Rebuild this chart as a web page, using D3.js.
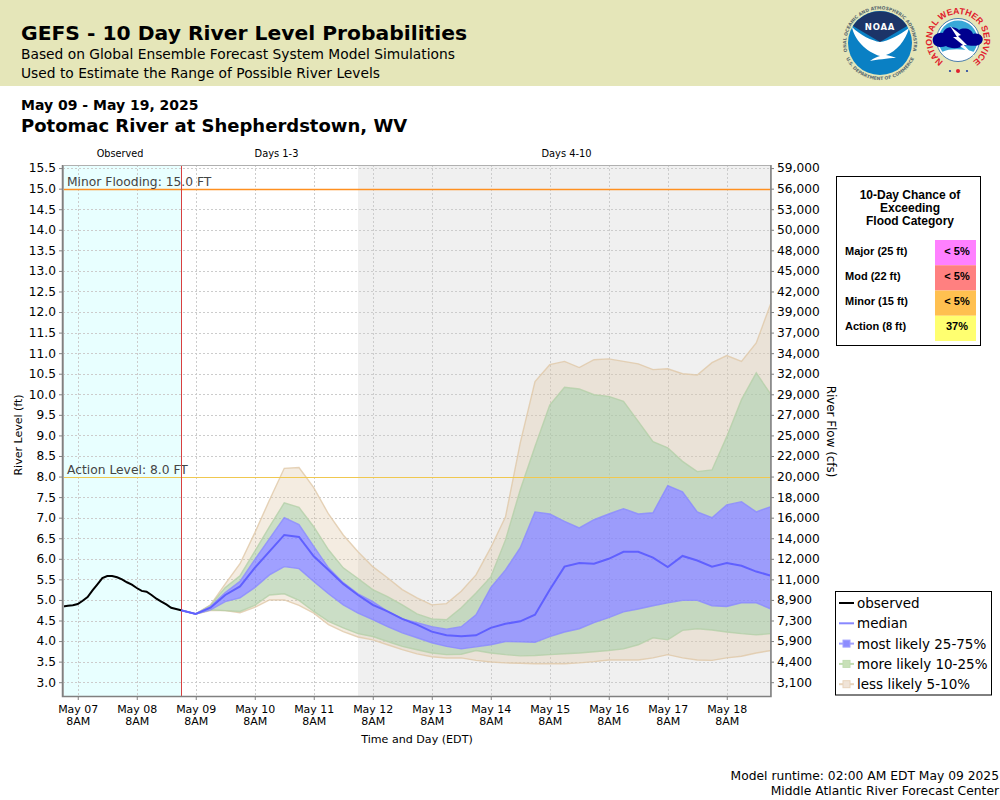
<!DOCTYPE html>
<html>
<head>
<meta charset="utf-8">
<script src="https://cdnjs.cloudflare.com/ajax/libs/d3/7.8.5/d3.min.js"></script>
<style>
  html, body { margin: 0; padding: 0; background: #fff; }
  svg { display: block; font-family: "DejaVu Sans", sans-serif; }
</style>
</head>
<body>
<div id="chart"></div>
<script>
// river level, ft. observed is every 2 hours from May 07 02:00
const observed = [4.84, 4.86, 4.87, 4.9, 4.98, 5.07, 5.23, 5.38, 5.53, 5.58, 5.58, 5.55, 5.5, 5.43, 5.37, 5.29, 5.22, 5.2, 5.12, 5.03, 4.96, 4.89, 4.81, 4.78, 4.75];

// forecast percentiles, every 6 hours from May 09 02:00
const p95 = [4.75, 4.66, 4.88, 5.39, 5.88, 6.63, 7.43, 8.2, 8.22, 7.73, 7.09, 6.58, 6.17, 5.81, 5.54, 5.25, 5.05, 4.88, 4.91, 5.21, 5.61, 6.27, 7.02, 8.82, 10.31, 10.72, 10.8, 10.65, 10.84, 10.86, 10.8, 10.74, 10.6, 10.62, 10.5, 10.47, 10.77, 10.94, 10.8, 11.25, 12.22];
const p90 = [4.75, 4.66, 4.87, 5.3, 5.59, 6.18, 6.78, 7.36, 7.25, 6.78, 6.22, 5.78, 5.52, 5.25, 5.08, 4.88, 4.66, 4.54, 4.52, 4.81, 5.17, 5.56, 6.46, 7.68, 8.73, 9.74, 10.17, 10.13, 9.99, 9.95, 9.83, 9.34, 8.85, 8.7, 8.37, 8.12, 8.16, 8.97, 9.87, 10.52, 9.99];
const p75 = [4.75, 4.66, 4.84, 5.18, 5.45, 5.98, 6.49, 7.0, 6.83, 6.3, 5.78, 5.42, 5.15, 4.96, 4.72, 4.54, 4.45, 4.35, 4.29, 4.35, 4.64, 5.3, 5.73, 6.27, 7.14, 7.09, 6.91, 6.75, 6.95, 7.09, 7.22, 7.09, 7.12, 7.78, 7.63, 7.14, 7.0, 7.31, 7.39, 7.14, 7.27];
const p50 = [4.75, 4.66, 4.81, 5.12, 5.33, 5.78, 6.18, 6.58, 6.53, 6.06, 5.73, 5.39, 5.12, 4.88, 4.72, 4.54, 4.4, 4.23, 4.14, 4.12, 4.14, 4.32, 4.42, 4.48, 4.64, 5.25, 5.81, 5.9, 5.88, 6.0, 6.17, 6.17, 6.03, 5.8, 6.07, 5.96, 5.81, 5.9, 5.83, 5.69, 5.59];
const p25 = [4.75, 4.66, 4.76, 4.96, 5.05, 5.3, 5.61, 5.81, 5.76, 5.45, 5.15, 4.88, 4.68, 4.52, 4.35, 4.2, 4.08, 3.96, 3.87, 3.81, 3.86, 3.91, 3.99, 3.98, 3.97, 4.11, 4.22, 4.3, 4.45, 4.57, 4.71, 4.78, 4.86, 4.93, 4.99, 4.99, 4.86, 4.84, 4.93, 4.93, 4.78];
const p10 = [4.75, 4.66, 4.76, 4.74, 4.72, 4.87, 5.12, 5.15, 4.99, 4.72, 4.48, 4.32, 4.18, 4.11, 3.99, 3.87, 3.79, 3.71, 3.67, 3.68, 3.77, 3.71, 3.67, 3.64, 3.65, 3.67, 3.69, 3.71, 3.74, 3.77, 3.81, 3.91, 4.08, 4.03, 4.26, 4.3, 4.27, 4.22, 4.18, 4.15, 4.18];
const p5 = [4.75, 4.66, 4.74, 4.74, 4.69, 4.82, 5.0, 5.0, 4.87, 4.68, 4.4, 4.23, 4.1, 4.03, 3.91, 3.79, 3.69, 3.62, 3.59, 3.59, 3.53, 3.49, 3.47, 3.46, 3.45, 3.45, 3.45, 3.47, 3.5, 3.54, 3.54, 3.54, 3.59, 3.67, 3.59, 3.54, 3.53, 3.59, 3.63, 3.71, 3.77];

// left axis ticks and the matching flow label on the right
const levelTicks = [15.5, 15, 14.5, 14, 13.5, 13, 12.5, 12, 11.5, 11, 10.5, 10, 9.5, 9, 8.5, 8, 7.5, 7, 6.5, 6, 5.5, 5, 4.5, 4, 3.5, 3];
const flowLabels = ["59,000", "56,000", "53,000", "50,000", "48,000", "45,000", "42,000", "39,000", "37,000", "34,000", "32,000", "29,000", "27,000", "25,000", "22,000", "20,000", "18,000", "16,000", "14,000", "12,000", "11,000", "8,900", "7,300", "5,900", "4,400", "3,100"];
const dayTicks = ["2025-05-07", "2025-05-08", "2025-05-09", "2025-05-10", "2025-05-11", "2025-05-12", "2025-05-13", "2025-05-14", "2025-05-15", "2025-05-16", "2025-05-17", "2025-05-18"];

const floodNames = ["Major (25 ft)", "Mod (22 ft)", "Minor (15 ft)", "Action (8 ft)"];
const floodChances = ["< 5%", "< 5%", "< 5%", "37%"];
const floodColors = ["#ff80ff", "#ff8080", "#ffc050", "#ffff70"];

const width = 1000;
const height = 800;
const plot = { left: 63, right: 771, top: 165, bottom: 697 };
const hour = 3600 * 1000;
const start = new Date(2025, 4, 7, 2);
const end = new Date(2025, 4, 19, 2);
const fcstStart = new Date(2025, 4, 9, 2);
const longStart = new Date(2025, 4, 12, 2);

const x = d3.scaleTime().domain([start, end]).range([plot.left, plot.right]);
const y = d3.scaleLinear().domain([2.64, 15.575]).range([plot.bottom, plot.top]);

const obsTime = (i) => new Date(start.getTime() + i * 2 * hour);
const fcstTime = (i) => new Date(fcstStart.getTime() + i * 6 * hour);

const svg = d3.select("#chart").append("svg").attr("width", width).attr("height", height);

// header band
svg.append("rect").attr("width", width).attr("height", 86).attr("fill", "#e5e6b9");
const headText = (tx, ty, size, weight, str) =>
  svg.append("text").attr("x", tx).attr("y", ty).attr("font-size", size).attr("font-weight", weight).attr("fill", "#000").text(str);
headText(21, 40, 20.3, "bold", "GEFS - 10 Day River Level Probabilities");
headText(21, 59, 13.8, "normal", "Based on Global Ensemble Forecast System Model Simulations");
headText(21, 78, 13.8, "normal", "Used to Estimate the Range of Possible River Levels");
headText(21, 110, 14, "bold", "May 09 - May 19, 2025");
headText(21, 132, 18, "bold", "Potomac River at Shepherdstown, WV");

drawNoaa(svg.append("g").attr("transform", "translate(880,43)"));
drawNws(svg.append("g").attr("transform", "translate(958,40)"));

// plot backgrounds
const g = svg.append("g");
g.append("rect").attr("x", plot.left).attr("y", plot.top).attr("width", plot.right - plot.left).attr("height", plot.bottom - plot.top).attr("fill", "#fff");
g.append("rect").attr("x", plot.left).attr("y", plot.top).attr("width", x(fcstStart) - plot.left).attr("height", plot.bottom - plot.top).attr("fill", "#e8ffff");
g.append("rect").attr("x", x(longStart)).attr("y", plot.top).attr("width", plot.right - x(longStart)).attr("height", plot.bottom - plot.top).attr("fill", "#f0f0f0");

// gridlines
const dayTimes = dayTicks.map((d) => new Date(d + "T08:00:00"));
const grid = g.append("g").attr("stroke", "#cccccc").attr("stroke-dasharray", "2,2").attr("stroke-width", 1);
grid.selectAll("line.h").data(levelTicks).enter().append("line").attr("class", "h")
  .attr("x1", plot.left).attr("x2", plot.right).attr("y1", (d) => Math.round(y(d)) + 0.5).attr("y2", (d) => Math.round(y(d)) + 0.5);
grid.selectAll("line.v").data(dayTimes).enter().append("line").attr("class", "v")
  .attr("y1", plot.top).attr("y2", plot.bottom).attr("x1", (d) => Math.round(x(d)) + 0.5).attr("x2", (d) => Math.round(x(d)) + 0.5);

// bands, outermost first
const band = (lo, hi) => d3.area().x((d, i) => x(fcstTime(i))).y0((d, i) => y(lo[i])).y1((d, i) => y(hi[i]))(lo);
const line = (vals, time) => d3.line().x((d, i) => x(time(i))).y((d) => y(d))(vals);
const tan = { fill: "#e0c8a8", stroke: "#e0c8a8", alpha: 0.34 };
const green = { fill: "#a8c8a0", stroke: "#b4d0a8", alpha: 0.6 };
const blue = { fill: "#8080ff", stroke: "#8888ff", alpha: 0.75 };
[[p5, p10, tan], [p90, p95, tan], [p10, p25, green], [p75, p90, green], [p25, p75, blue]].forEach(([lo, hi, c]) => {
  g.append("path").attr("d", band(lo, hi)).attr("fill", c.fill).attr("fill-opacity", c.alpha);
});
[[p5, tan], [p95, tan], [p10, green], [p90, green], [p25, blue], [p75, blue]].forEach(([vals, c]) => {
  g.append("path").attr("d", line(vals, fcstTime)).attr("fill", "none").attr("stroke", c.stroke).attr("stroke-width", 1.4).attr("stroke-opacity", 0.8);
});

// flood lines
const flood = [[15, "#ff9020", 1.5, "Minor Flooding: 15.0 FT"], [8, "#f0c850", 1, "Action Level: 8.0 FT"]];
flood.forEach(([lvl, col, lw, label]) => {
  g.append("line").attr("x1", plot.left).attr("x2", plot.right).attr("y1", Math.round(y(lvl)) + 0.5).attr("y2", Math.round(y(lvl)) + 0.5).attr("stroke", col).attr("stroke-width", lw);
  g.append("text").attr("x", 67).attr("y", y(lvl) - 3).attr("font-size", 12.3).attr("fill", "#444").text(label);
});

// forecast start marker
g.append("line").attr("x1", Math.round(x(fcstStart)) + 0.5).attr("x2", Math.round(x(fcstStart)) + 0.5).attr("y1", plot.top).attr("y2", plot.bottom).attr("stroke", "#d84040").attr("stroke-width", 1);

g.append("path").attr("d", line(p50, fcstTime)).attr("fill", "none").attr("stroke", "#6060ff").attr("stroke-width", 2);
g.append("path").attr("d", line(observed, obsTime)).attr("fill", "none").attr("stroke", "#000").attr("stroke-width", 2);

// frame and axes
g.append("rect").attr("x", plot.left + 0.5).attr("y", plot.top + 0.5).attr("width", plot.right - plot.left - 1).attr("height", plot.bottom - plot.top - 1)
  .attr("fill", "none").attr("stroke", "#b0b0b0");
g.append("path").attr("d", `M${plot.left - 0.5},${plot.top}V${plot.bottom - 0.5}H${plot.right}V${plot.top}`).attr("fill", "none").attr("stroke", "#808080").attr("stroke-width", 1.5);

const fmtLevel = d3.format(".1f");
const leftAxis = d3.axisLeft(y).tickValues(levelTicks).tickFormat(fmtLevel).tickSize(3).tickPadding(3);
const rightAxis = d3.axisRight(y).tickValues(levelTicks).tickFormat((d, i) => flowLabels[i]).tickSize(3).tickPadding(3);
const bottomAxis = d3.axisBottom(x).tickValues(dayTimes).tickFormat("").tickSize(3);
const styleAxis = (a) => {
  a.select(".domain").remove();
  a.selectAll("line").attr("stroke", "#808080");
  a.selectAll("text").attr("font-family", "'DejaVu Sans', sans-serif").attr("font-size", 12.2).attr("fill", "#000");
};
svg.append("g").attr("transform", `translate(${plot.left - 1},0)`).call(leftAxis).call(styleAxis);
svg.append("g").attr("transform", `translate(${plot.right},0)`).call(rightAxis).call(styleAxis);
const bottom = svg.append("g").attr("transform", `translate(0,${plot.bottom})`).call(bottomAxis).call(styleAxis);
const dayFmt = d3.timeFormat("%b %d");
bottom.selectAll(".tick").each(function (d) {
  const t = d3.select(this).select("text").attr("font-size", 11).attr("y", null).attr("dy", null);
  t.append("tspan").attr("x", 0).attr("y", 15.5).text(dayFmt(d));
  t.append("tspan").attr("x", 0).attr("y", 27.5).text("8AM");
});

// axis titles and period labels
const small = (tx, ty, size, str, rot) => {
  const t = svg.append("text").attr("font-size", size).attr("fill", "#000").attr("text-anchor", "middle").text(str);
  t.attr("transform", rot ? `translate(${tx},${ty}) rotate(${rot})` : `translate(${tx},${ty})`);
};
small(120, 157, 9.7, "Observed");
small(276.5, 157, 9.9, "Days 1-3");
small(566.5, 157, 9.9, "Days 4-10");
small(417, 743, 11.1, "Time and Day (EDT)");
small(22, 435, 11, "River Level (ft)", -90);
small(827, 431.5, 11.9, "River Flow (cfs)", 90);

// footer
svg.append("text").attr("x", 999).attr("y", 779.5).attr("text-anchor", "end").attr("font-size", 12.3).text("Model runtime: 02:00 AM EDT May 09 2025");
svg.append("text").attr("x", 999).attr("y", 795).attr("text-anchor", "end").attr("font-size", 12.3).text("Middle Atlantic River Forecast Center");

// flood category table
const table = svg.append("g").attr("font-family", "'Liberation Sans', Arial, sans-serif").attr("font-weight", "bold");
table.append("rect").attr("x", 836.5).attr("y", 176.5).attr("width", 144).attr("height", 169).attr("fill", "#fff").attr("stroke", "#000");
["10-Day Chance of", "Exceeding", "Flood Category"].forEach((s, i) => {
  table.append("text").attr("x", 910).attr("y", 199 + i * 13).attr("text-anchor", "middle").attr("font-size", 12).text(s);
});
const rowY = d3.scaleBand().domain(floodNames).range([240, 341]);
floodNames.forEach((name, i) => {
  table.append("rect").attr("x", 935).attr("y", rowY(name)).attr("width", 41).attr("height", rowY.bandwidth()).attr("fill", floodColors[i]);
  table.append("text").attr("x", 845).attr("y", rowY(name) + 14.5).attr("font-size", 11).text(name);
  table.append("text").attr("x", 957).attr("y", rowY(name) + 14.5).attr("text-anchor", "middle").attr("font-size", 11).text(floodChances[i]);
});

// legend
const legendItems = [
  { label: "observed", color: "#000", box: false },
  { label: "median", color: "#8888ff", box: false },
  { label: "most likely 25-75%", color: "#a0a0ff", box: true, fill: "#8c8cff" },
  { label: "more likely 10-25%", color: "#c0dcb0", box: true, fill: "#c8e0b8" },
  { label: "less likely 5-10%", color: "#e8d4bc", box: true, fill: "#f0e4d8" }
];
const legend = svg.append("g");
legend.append("rect").attr("x", 835.5).attr("y", 591.5).attr("width", 156).attr("height", 103.5).attr("fill", "#fff").attr("stroke", "#000");
legendItems.forEach((d, i) => {
  const ly = 603 + i * 20.3;
  legend.append("line").attr("x1", 839).attr("x2", 854).attr("y1", ly).attr("y2", ly).attr("stroke", d.color).attr("stroke-width", 2);
  if (d.box) legend.append("rect").attr("x", 843).attr("y", ly - 3.5).attr("width", 7).attr("height", 7).attr("fill", d.fill).attr("stroke", d.color);
  legend.append("text").attr("x", 857).attr("y", ly + 5).attr("font-size", 13.5).text(d.label);
});

function drawNoaa(sel) {
  // ring text, globe and gull of the NOAA seal
  sel.append("path").attr("id", "noaaRing").attr("d", "M-32.5,9A33.7,33.7 0 1 1 32.5,9").attr("fill", "none");
  sel.append("text").attr("font-size", 4.5).attr("font-weight", "bold").attr("fill", "#5a6a70")
    .append("textPath").attr("href", "#noaaRing").attr("startOffset", "50%").attr("text-anchor", "middle").text("NATIONAL OCEANIC AND ATMOSPHERIC ADMINISTRATION");
  sel.append("path").attr("id", "noaaRingB").attr("d", "M-36,10A37.5,37.5 0 0 0 36,10").attr("fill", "none");
  sel.append("text").attr("font-size", 4.5).attr("font-weight", "bold").attr("fill", "#5a6a70")
    .append("textPath").attr("href", "#noaaRingB").attr("startOffset", "50%").attr("text-anchor", "middle").text("U.S. DEPARTMENT OF COMMERCE");
  sel.append("circle").attr("r", 32).attr("fill", "#0a80c4");
  sel.append("path").attr("d", "M-27,-17A32,32 0 0 1 27,-17L0,-1Z").attr("fill", "#1c3468");
  sel.append("path").attr("d", "M-28,-16C-20,-8 -8,-2 0,-1C8,-2 20,-8 29,-15C26,-3 16,9 6,12C11,13 14,14 16,15C8,15 -4,17 -10,18C-6,15 -3,14 0,13C-14,9 -26,-4 -28,-16Z").attr("fill", "#fff");
  sel.append("text").attr("y", -13.5).attr("text-anchor", "middle").attr("font-size", 8.5).attr("font-weight", "bold").attr("fill", "#fff").attr("letter-spacing", 0.8).text("NOAA");
}

function drawNws(sel) {
  // red lettering around a blue disc with a cloud and lightning bolt
  sel.append("path").attr("id", "nwsTop").attr("d", "M-13,22.5A26,26 0 1 1 13,22.5").attr("fill", "none");
  sel.append("text").attr("font-family", "'Liberation Sans', Arial, sans-serif").attr("font-size", 8.8).attr("font-weight", "bold").attr("fill", "#e0202c")
    .append("textPath").attr("href", "#nwsTop").attr("startOffset", "50%").attr("text-anchor", "middle").text("NATIONAL WEATHER SERVICE");
  sel.append("circle").attr("r", 21.5).attr("fill", "#fff").attr("stroke", "#2060a0").attr("stroke-width", 0.8);
  sel.append("circle").attr("r", 19.5).attr("fill", "#38a8d8");
  sel.append("path").attr("d", "M-16,12C-8,8 8,9 16,12A19.5,19.5 0 0 1 -16,12Z").attr("fill", "#fff");
  sel.append("path").attr("d", "M-25,2C-27,-5 -19,-8 -15,-7C-13,-14 -3,-14 1,-10C6,-13 14,-11 15,-6C21,-8 27,-3 24,2C22,7 12,6 8,5C2,9 -8,9 -12,6C-17,8 -24,7 -25,2Z").attr("fill", "#00008e");
  sel.append("path").attr("d", "M-8,-14L3,-5L0,-4L9,5L6,5L17,17L2,6L5,5L-5,-3L-1,-3Z").attr("fill", "#fff");
  sel.selectAll("circle.star").data([-8, 0, 9]).enter().append("circle").attr("class", "star")
    .attr("cx", (d) => d).attr("cy", 31).attr("r", (d) => (d === 0 ? 2 : 1.1)).attr("fill", (d) => (d === 0 ? "#e0202c" : "#2040a0"));
}
</script>
</body>
</html>
